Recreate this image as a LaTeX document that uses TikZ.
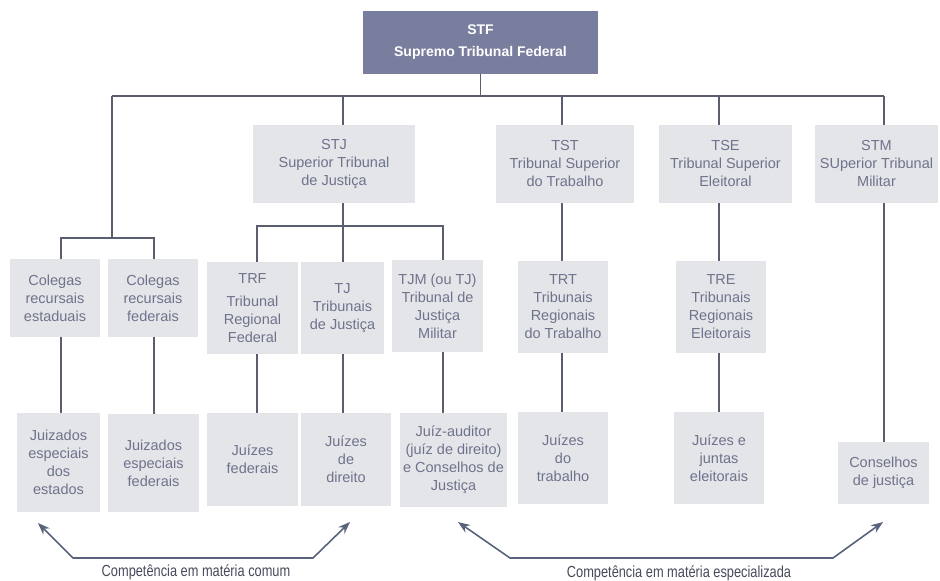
\documentclass[tikz,border=0pt]{standalone}
\usepackage{fontspec}
\setmainfont{Liberation Sans}
\newfontfamily\condfont[FakeStretch=0.8]{Liberation Sans}
\usetikzlibrary{arrows.meta}
\definecolor{stfblue}{HTML}{7A7E9E}
\definecolor{boxgray}{HTML}{E4E5E9}
\definecolor{boxtext}{HTML}{6E738C}
\definecolor{linkgray}{HTML}{5A5E6E}
\definecolor{arrowgray}{HTML}{58627A}
\definecolor{labelgray}{HTML}{464A5A}

\begin{document}
\begin{tikzpicture}[x=1pt,y=-1pt,
    court/.style={fill=boxgray,text=boxtext,align=center,inner sep=0pt,
      font=\fontsize{14.5}{18}\selectfont},
    boxsize/.style 2 args={minimum width=#1pt,minimum height=#2pt},
    link/.style={draw=linkgray,line width=1.6pt},
    reach/.style={draw=arrowgray,line width=1.6pt,line join=round,
      {Stealth[length=12pt,width=9pt]}-{Stealth[length=12pt,width=9pt]}},
    reachlabel/.style={text=labelgray,font=\condfont\fontsize{16}{18}\selectfont}]
        \useasboundingbox (0,0) rectangle (940,581);

        % top
        \node[court,fill=stfblue,text=white,font=\bfseries\fontsize{14}{18}\selectfont,boxsize={235}{63}]
          (stf) at (480.5,42.5) {STF\\[4pt]Supremo Tribunal Federal};

        % superior courts
        \node[court,boxsize={162}{78}] (stj) at (334,164) {STJ\\Superior Tribunal\\de Justiça};
        \node[court,boxsize={138}{78}] (tst) at (565,164) {TST\\Tribunal Superior\\do Trabalho};
        \node[court,boxsize={133}{78}] (tse) at (725.5,164) {TSE\\Tribunal Superior\\Eleitoral};
        \node[court,boxsize={123}{78}] (stm) at (876.5,164) {STM\\SUperior Tribunal\\Militar};

        % second level
        \node[court,boxsize={90}{78}] (colest) at (55,298) {Colegas\\recursais\\estaduais};
        \node[court,boxsize={90}{78}] (colfed) at (153,298) {Colegas\\recursais\\federais};
        \node[court,boxsize={91}{92}] (trf) at (252.5,308) {TRF\\[5pt]Tribunal\\Regional\\Federal};
        \node[court,boxsize={83}{92}] (tj) at (342.5,308) {TJ\\Tribunais\\de Justiça};
        \node[court,boxsize={91}{92}] (tjm) at (437.5,306) {TJM (ou TJ)\\Tribunal de\\Justiça\\Militar};
        \node[court,boxsize={90}{92}] (trt) at (563,307) {TRT\\Tribunais\\Regionais\\do Trabalho};
        \node[court,boxsize={90}{92}] (tre) at (721,307) {TRE\\Tribunais\\Regionais\\Eleitorais};

        % first instance
        \node[court,boxsize={83}{99}] (jeest) at (58.5,462.5) {Juizados\\especiais\\dos\\estados};
        \node[court,boxsize={91}{98}] (jefed) at (153.5,463) {Juizados\\especiais\\federais};
        \node[court,boxsize={91}{93}] (jfed) at (252.5,459.5) {Juízes\\federais};
        \node[court,boxsize={90}{93}] (jdir) at (346,459.5) {Juízes\\de\\direito};
        \node[court,boxsize={107}{94}] (jaud) at (453.5,460) {Juíz-auditor\\(juíz de direito)\\e Conselhos de\\Justiça};
        \node[court,boxsize={90}{92}] (jtrab) at (563,458) {Juízes\\do\\trabalho};
        \node[court,boxsize={90}{92}] (jelei) at (719,458) {Juízes e\\juntas\\eleitorais};
        \node[court,boxsize={91}{62}] (cjus) at (883.5,473) {Conselhos\\de justiça};

        % columns of the connectors
        \coordinate (c1) at (61,0);
        \coordinate (c2) at (154,0);
        \coordinate (c3) at (257,0);
        \coordinate (c4) at (343,0);
        \coordinate (c5) at (443,0);
        \coordinate (c6) at (562,0);
        \coordinate (c7) at (719,0);
        \coordinate (barL) at (112,96);
        \coordinate (barR) at (884,96);
        \coordinate (colsplit) at (112,238);
        \coordinate (stjsplit) at (343,226);

        % connectors
        \draw[link] (stf.south) -- (stf.south |- barL);
        \draw[link] (barL) -- (barR);
        \draw[link] (barL) -- (colsplit);
        \draw[link] (colest.north -| c1) |- (colsplit) -| (colfed.north -| c2);
        \draw[link] (barL -| c4) -- (stj.north -| c4);
        \draw[link] (stj.south -| c4) -- (tj.north -| c4);
        \draw[link] (trf.north -| c3) |- (stjsplit) -| (tjm.north -| c5);
        \draw[link] (barL -| c6) -- (tst.north -| c6);
        \draw[link] (tst.south -| c6) -- (trt.north -| c6);
        \draw[link] (barL -| c7) -- (tse.north -| c7);
        \draw[link] (tse.south -| c7) -- (tre.north -| c7);
        \draw[link] (barR) -- (stm.north -| barR);
        \draw[link] (stm.south -| barR) -- (cjus.north -| barR);
        \draw[link] (colest.south -| c1) -- (jeest.north -| c1);
        \draw[link] (colfed.south -| c2) -- (jefed.north -| c2);
        \draw[link] (trf.south -| c3) -- (jfed.north -| c3);
        \draw[link] (tj.south -| c4) -- (jdir.north -| c4);
        \draw[link] (tjm.south -| c5) -- (jaud.north -| c5);
        \draw[link] (trt.south -| c6) -- (jtrab.north -| c6);
        \draw[link] (tre.south -| c7) -- (jelei.north -| c7);

        % competence arrows
        \coordinate (comumA) at (38,523);
        \coordinate (comumB) at (73,558);
        \coordinate (comumC) at (313,558);
        \coordinate (comumD) at (350,522);
        \draw[reach] (comumA) -- (comumB) -- (comumC) -- (comumD);
        \node[reachlabel] (comum) at (196,572) {Competência em matéria comum};

        \coordinate (especA) at (458,522);
        \coordinate (especB) at (510,558);
        \coordinate (especC) at (833,558);
        \coordinate (especD) at (883,522);
        \draw[reach] (especA) -- (especB) -- (especC) -- (especD);
        \node[reachlabel] (espec) at (679,573) {Competência em matéria especializada};
    \end{tikzpicture}
\end{document}
